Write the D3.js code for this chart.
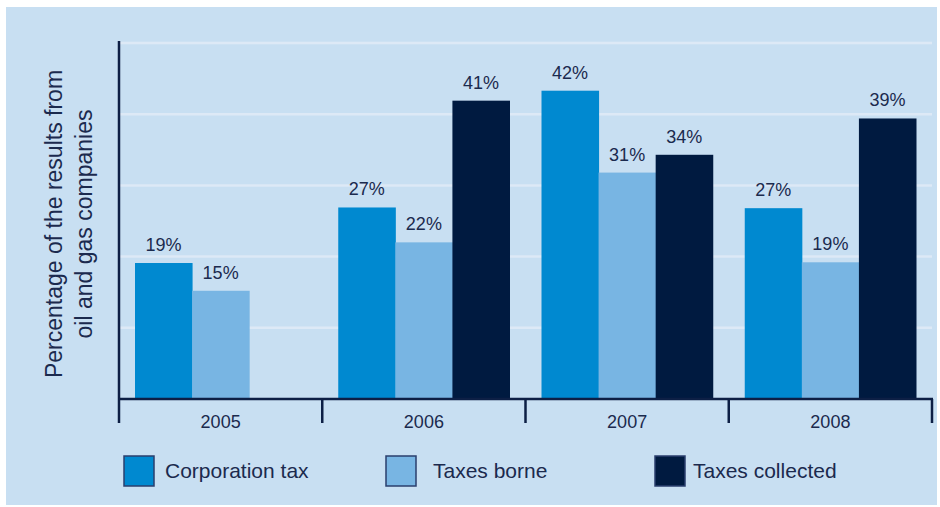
<!DOCTYPE html>
<html>
<head>
<meta charset="utf-8">
<script src="https://cdn.jsdelivr.net/npm/d3@7"></script>
<style>
  html, body { margin: 0; padding: 0; background: #ffffff; }
  svg { display: block; font-family: "Liberation Sans", Arial, Helvetica, sans-serif; }
</style>
</head>
<body>
<svg id="chart" width="940" height="507"></svg>
<script>
const years = ["2005", "2006", "2007", "2008"];
const seriesNames = ["Corporation tax", "Taxes borne", "Taxes collected"];
// bar heights (percent)
const corporationTax = [19.1, 26.9, 43.3, 26.8];
const taxesBorne = [15.2, 22.0, 31.8, 19.2];
const taxesCollected = [null, 41.9, 34.3, 39.4];
// printed labels
const corporationTaxLabels = ["19%", "27%", "42%", "27%"];
const taxesBorneLabels = ["15%", "22%", "31%", "19%"];
const taxesCollectedLabels = [null, "41%", "34%", "39%"];
const yTicks = [10, 20, 30, 40, 50];
const colors = ["#0089d0", "#78b5e3", "#001a40"];

const seriesValues = [corporationTax, taxesBorne, taxesCollected];
const seriesLabels = [corporationTaxLabels, taxesBorneLabels, taxesCollectedLabels];

const svg = d3.select("#chart");
const textColor = "#1b2a4e";
const axisColor = "#0d1f45";

// panel background
svg.append("rect").attr("x", 6).attr("y", 7).attr("width", 931).attr("height", 498).attr("fill", "#c8dff2");

const x0 = d3.scaleBand().domain(years).range([119, 932]).paddingInner(0).paddingOuter(0);
const x1 = d3.scaleBand().domain(seriesNames).range([16, x0.bandwidth() - 16]).padding(0);
const y = d3.scaleLinear().domain([0, 50]).range([399, 43]);

// gridlines
svg.append("g").selectAll("line").data(yTicks).join("line")
  .attr("x1", 119).attr("x2", 932)
  .attr("y1", d => y(d)).attr("y2", d => y(d))
  .attr("stroke", "#dde9f6").attr("stroke-width", 2.5);

// bars
const groups = svg.append("g").selectAll("g").data(years).join("g")
  .attr("transform", d => `translate(${x0(d)},0)`);

groups.each(function(yr, i) {
  const g = d3.select(this);
  const items = seriesNames.map((s, k) => ({ s, k, v: seriesValues[k][i], l: seriesLabels[k][i] })).filter(d => d.v != null);
  g.selectAll("rect").data(items).join("rect")
    .attr("x", d => x1(d.s))
    .attr("y", d => y(d.v))
    .attr("width", x1.bandwidth() + 0.5)
    .attr("height", d => y(0) - y(d.v))
    .attr("fill", d => colors[d.k]);
  g.selectAll("text").data(items).join("text")
    .attr("x", d => x1(d.s) + x1.bandwidth() / 2)
    .attr("y", d => y(d.v) - 12)
    .attr("text-anchor", "middle")
    .attr("font-size", 18)
    .attr("fill", textColor)
    .text(d => d.l);
});

// y axis line
svg.append("line").attr("x1", 119).attr("x2", 119).attr("y1", 41).attr("y2", 399)
  .attr("stroke", axisColor).attr("stroke-width", 2.5);

// x axis
const xAxis = d3.axisBottom(x0).tickSize(0).tickPadding(0);
const xg = svg.append("g").attr("transform", `translate(0,${y(0)})`).call(xAxis);
xg.select(".domain").remove();
xg.selectAll("text").attr("font-size", 18).attr("fill", textColor)
  .attr("font-family", "Liberation Sans, Arial, sans-serif")
  .attr("dy", null).attr("y", 29);

svg.append("line").attr("x1", 118).attr("x2", 933).attr("y1", y(0)).attr("y2", y(0))
  .attr("stroke", axisColor).attr("stroke-width", 2.5);
const boundaries = years.map(d => x0(d)).concat([x0.range()[1]]);
svg.append("g").selectAll("line").data(boundaries).join("line")
  .attr("x1", d => d).attr("x2", d => d)
  .attr("y1", y(0)).attr("y2", y(0) + 24)
  .attr("stroke", axisColor).attr("stroke-width", 2.5);

// y title
const yt = svg.append("text")
  .attr("transform", "translate(62,224) rotate(-90)")
  .attr("text-anchor", "middle")
  .attr("font-size", 23)
  .attr("fill", textColor);
yt.append("tspan").attr("x", 0).attr("dy", 0).text("Percentage of the results from");
yt.append("tspan").attr("x", 0).attr("dy", 30).text("oil and gas companies");

// legend
const legendX = [124, 386, 655];
const lg = svg.append("g").selectAll("g").data(seriesNames).join("g")
  .attr("transform", (d, i) => `translate(${legendX[i]},456)`);
lg.append("rect").attr("width", 30).attr("height", 30)
  .attr("fill", (d, i) => colors[i]).attr("stroke", "#2a3f6e").attr("stroke-width", 1.5);
lg.append("text").attr("x", (d, i) => [41, 47, 38][i]).attr("y", 22)
  .attr("font-size", 21).attr("fill", textColor).text(d => d);
</script>
</body>
</html>
